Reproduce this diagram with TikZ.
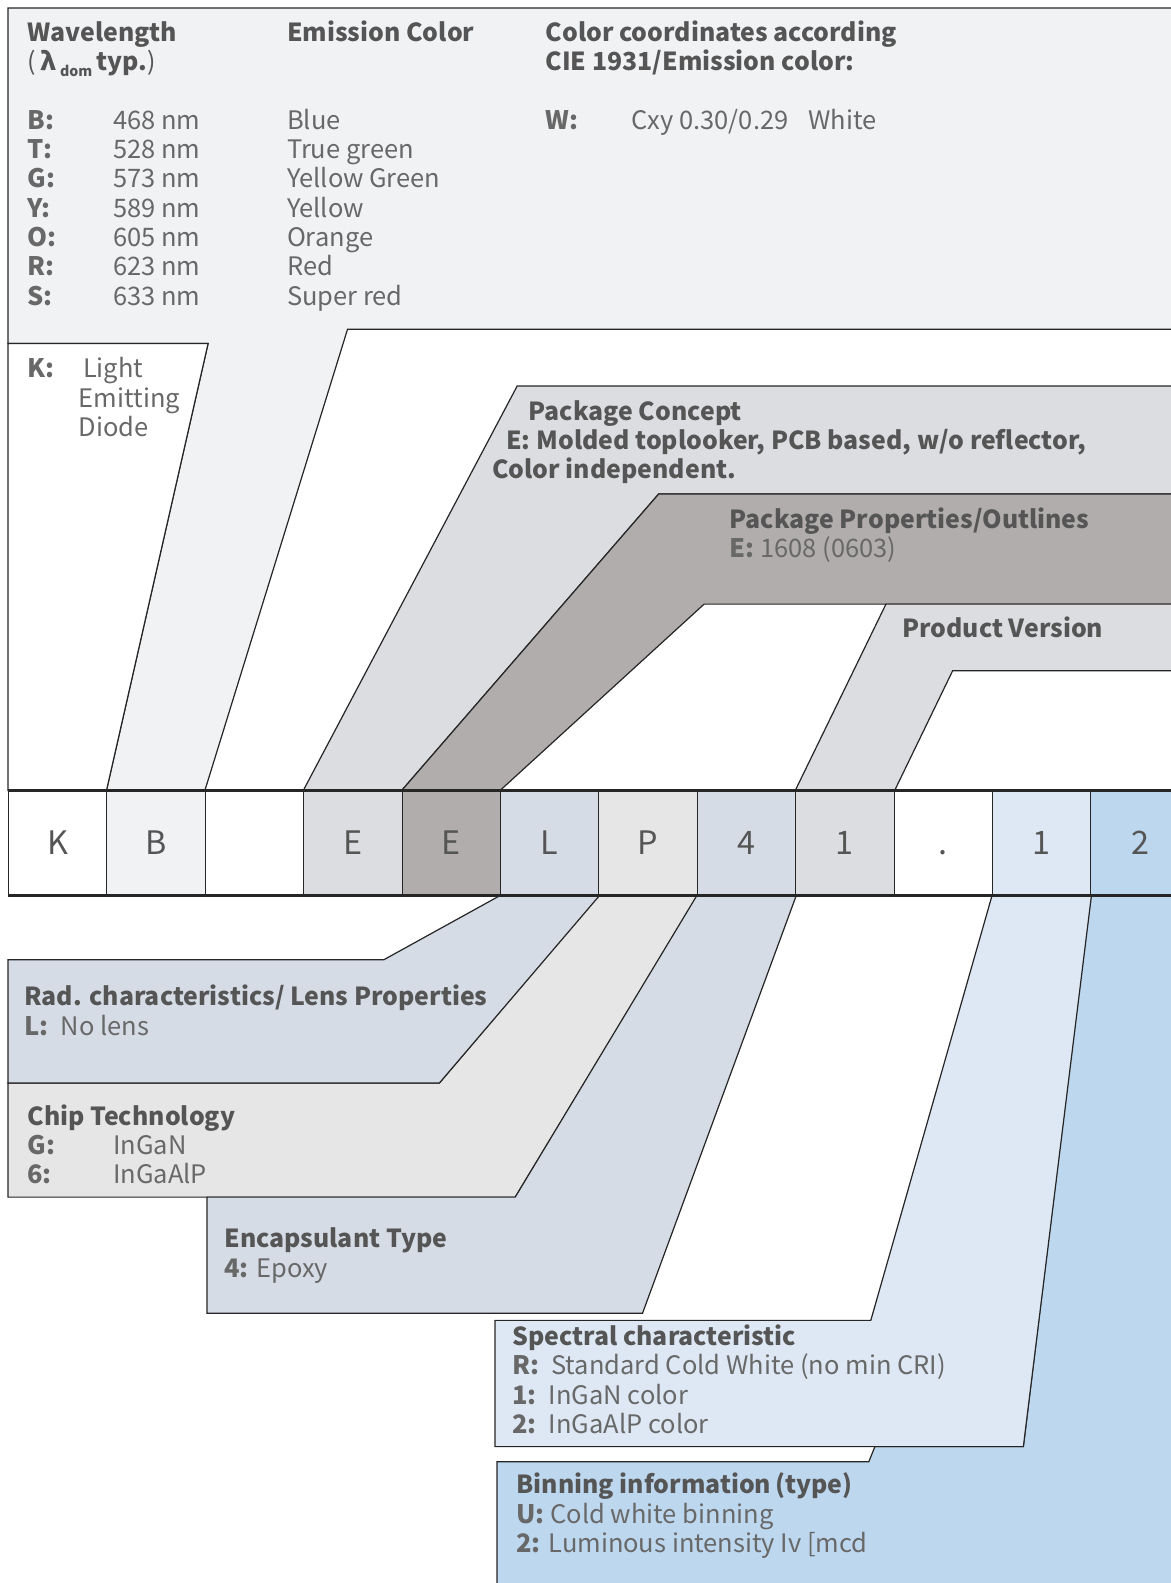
\documentclass[tikz,border=0pt]{standalone}
\usepackage{fontspec}
\setmainfont{Noto Sans CJK JP}

\begin{document}
\begin{tikzpicture}
	[x=1pt,y=-1pt,line join=miter,
	%Styles
	band/.style={draw=black!85,line width=1.2pt},
	head/.style={anchor=base west,inner sep=0pt,text=headgray,font=\fontsize{24.6pt}{29pt}\selectfont\bfseries},
	info/.style={anchor=base west,inner sep=0pt,text=textgray,align=left,font=\fontsize{25.2pt}{29pt}\selectfont},
	cell/.style={draw=black!85,line width=1pt,minimum width=97.4pt,minimum height=103pt,inner sep=0pt,
		text height=23.5pt,text depth=0pt,text=headgray,font=\fontsize{32pt}{32pt}\selectfont}
	]

	%Colors
	\definecolor{headgray}{HTML}{555555}
	\definecolor{textgray}{HTML}{686868}
	\definecolor{wavecolor}{HTML}{F1F2F4}
	\definecolor{conceptcolor}{HTML}{DCDDE0}
	\definecolor{outlinecolor}{HTML}{B0ADAC}
	\definecolor{lenscolor}{HTML}{D5DCE5}
	\definecolor{chipcolor}{HTML}{E6E6E6}
	\definecolor{spectralcolor}{HTML}{DDE8F4}
	\definecolor{bincolor}{HTML}{BDD7EE}

	\path[use as bounding box,clip] (0,0) rectangle (1159,1567);

	%The code row
	\node[cell] (K) at (57.2,834.5) {K};
	\node[cell,fill=wavecolor] (B) at (154.6,834.5) {B};
	\node[cell] (blank) at (252,834.5) {};
	\node[cell,fill=conceptcolor] (E1) at (349.4,834.5) {E};
	\node[cell,fill=outlinecolor] (E2) at (446.8,834.5) {E};
	\node[cell,fill=lenscolor] (L) at (544.2,834.5) {L};
	\node[cell,fill=chipcolor] (P) at (641.6,834.5) {P};
	\node[cell,fill=lenscolor] (N4) at (739,834.5) {4};
	\node[cell,fill=conceptcolor] (N1) at (836.4,834.5) {1};
	\node[cell] (dot) at (933.8,834.5) {.};
	\node[cell,fill=spectralcolor] (S1) at (1031.2,834.5) {1};
	\node[cell,fill=bincolor] (S2) at (1128.6,834.5) {2};

	%Bands above the row
	\draw[band,fill=wavecolor] (8,8) -- (1180,8) -- (1180,326) -- (344,326) -- (blank.north west)
		-- (B.north west) -- (206,340) -- (8,340) -- cycle;
	\draw[band,fill=white] (8,340) -- (206,340) -- (B.north west) -- (K.north west) -- cycle;
	\draw[band,fill=conceptcolor] (512,382) -- (1180,382) -- (1180,489) -- (652,489)
		-- (E2.north west) -- (E1.north west) -- cycle;
	\draw[band,fill=outlinecolor] (652,489) -- (1180,489) -- (1180,598) -- (697,598)
		-- (L.north west) -- (E2.north west) -- cycle;
	\draw[band,fill=conceptcolor] (877,598) -- (1180,598) -- (1180,664) -- (943,664)
		-- (N1.north east) -- (N1.north west) -- cycle;

	%Bands below the row
	\draw[band,fill=chipcolor] (P.south west) -- (435,1072) -- (8,1072) -- (8,1185) -- (510,1185)
		-- (P.south east) -- cycle;
	\draw[band,fill=lenscolor] (L.south west) -- (380,950) -- (8,950) -- (8,1072) -- (435,1072)
		-- (L.south east) -- cycle;
	\draw[band,fill=lenscolor] (N4.south west) -- (510,1185) -- (205,1185) -- (205,1300) -- (636,1300)
		-- (N4.south east) -- cycle;
	\draw[band,fill=bincolor] (S2.south west) -- (1180,886) -- (1180,1590) -- (492,1590) -- (492,1447)
		-- (860,1447) -- (866,1432) -- (1013,1432) -- cycle;
	\draw[band,fill=spectralcolor] (S1.south west) -- (862,1307) -- (490,1307) -- (490,1432) -- (1013,1432)
		-- (S1.south east) -- cycle;

	\draw[line width=2.5pt,black!85] (K.north west) -- (S2.north east) (K.south west) -- (S2.south east);

	%Texts (multi-line nodes sit on their last line)
	\node[head] (wave) at (27,41) {Wavelength};
	\node[head] (dom) at (27,70) {{\mdseries(}\,λ\,{\fontsize{14pt}{14pt}\selectfont\raisebox{-6pt}{dom}}\,typ.{\mdseries)}};
	\node[info] (codes) at (27,302) {\makebox[85pt][l]{\textbf{B:}}468 nm\\\makebox[85pt][l]{\textbf{T:}}528 nm\\
		\makebox[85pt][l]{\textbf{G:}}573 nm\\\makebox[85pt][l]{\textbf{Y:}}589 nm\\\makebox[85pt][l]{\textbf{O:}}605 nm\\
		\makebox[85pt][l]{\textbf{R:}}623 nm\\\makebox[85pt][l]{\textbf{S:}}633 nm};
	\node[head] (emission) at (284,41) {Emission Color};
	\node[info] (colors) at (284,302) {Blue\\True green\\Yellow Green\\Yellow\\Orange\\Red\\Super red};
	\node[head] (cie) at (540,41) {Color coordinates according};
	\node[head] (cie2) at (540,70) {CIE 1931/Emission color:};
	\node[info] (white) at (540,128) {\makebox[85pt][l]{\textbf{W:}}Cxy 0.30/0.29\hspace{20pt}White};
	\node[info] (diode) at (27,432) {\makebox[55pt][l]{\textbf{K:}}Light\\\hspace*{51pt}Emitting\\\hspace*{51pt}Diode};

	\node[head] (concept) at (523,416) {Package Concept};
	\node[head] (conceptE) at (501,445) {E: Molded toplooker, PCB based, w/o reflector,};
	\node[head] (conceptC) at (487,474) {Color independent.};
	\node[head] (outline) at (722,523) {Package Properties/Outlines};
	\node[info] (outlineE) at (722,552) {\textbf{E:} 1608 (0603)};
	\node[head] (version) at (893,631) {Product Version};

	\node[head] (lens) at (24,995) {Rad. characteristics/ Lens Properties};
	\node[info] (lensL) at (24,1025) {\textbf{L:}\hspace{12pt}No lens};
	\node[head] (chip) at (27,1114) {Chip Technology};
	\node[info] (chipG) at (27,1172) {\makebox[85pt][l]{\textbf{G:}}InGaN\\\makebox[85pt][l]{\textbf{6:}}InGaAlP};
	\node[head] (encap) at (222,1235) {Encapsulant Type};
	\node[info] (encap4) at (222,1265) {\textbf{4:} Epoxy};
	\node[head] (spectral) at (507,1332) {Spectral characteristic};
	\node[info] (spectralR) at (507,1419) {\textbf{R:}\hspace{12pt}Standard Cold White (no min CRI)\\
		\textbf{1:}\hspace{12pt}InGaN color\\\textbf{2:}\hspace{12pt}InGaAlP color};
	\node[head] (binning) at (511,1478) {Binning information\,(type)};
	\node[info] (binningU) at (511,1537) {\textbf{U:} Cold white binning\\\textbf{2:} Luminous intensity Iv [mcd};
\end{tikzpicture}
\end{document}
